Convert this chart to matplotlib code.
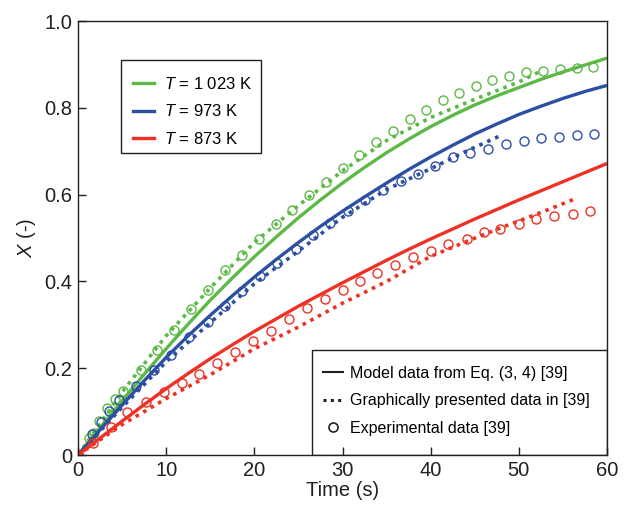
import matplotlib
matplotlib.use('Agg')
import matplotlib.pyplot as plt
from matplotlib.lines import Line2D
from matplotlib.patches import Rectangle

plt.rcParams['font.family'] = ['Liberation Sans', 'DejaVu Sans']
plt.rcParams['mathtext.fontset'] = 'custom'
plt.rcParams['mathtext.rm'] = 'Liberation Sans'
plt.rcParams['mathtext.it'] = 'Liberation Sans:italic'

# model curves, Eq. (3, 4)
t_model = [0, 2.5, 5, 7.5, 10, 12.5, 15, 17.5, 20, 22.5, 25, 27.5, 30,
           32.5, 35, 37.5, 40, 42.5, 45, 47.5, 50, 52.5, 55, 57.5, 60]
x_model_1023 = [0, 0.063, 0.125, 0.186, 0.245, 0.302, 0.357, 0.408, 0.457, 0.503, 0.547, 0.588, 0.627,
                0.663, 0.697, 0.728, 0.757, 0.783, 0.807, 0.828, 0.847, 0.866, 0.883, 0.899, 0.915]
x_model_973 = [0, 0.058, 0.115, 0.171, 0.225, 0.275, 0.322, 0.367, 0.41, 0.451, 0.49, 0.527, 0.562,
               0.595, 0.627, 0.658, 0.687, 0.714, 0.74, 0.763, 0.785, 0.804, 0.822, 0.838, 0.852]
x_model_873 = [0, 0.039, 0.078, 0.116, 0.153, 0.188, 0.222, 0.254, 0.285, 0.314, 0.343, 0.370, 0.397,
               0.423, 0.449, 0.474, 0.498, 0.521, 0.544, 0.566, 0.588, 0.609, 0.63, 0.651, 0.672]

# graphically presented data in [39]
t_graph_1023 = [0, 5, 10, 15, 20, 25, 30, 35, 40, 45, 50, 52.7]
x_graph_1023 = [0, 0.145, 0.275, 0.385, 0.49, 0.575, 0.655, 0.725, 0.778, 0.82, 0.86, 0.887]
t_graph_973 = [0, 5, 10, 15, 20, 25, 30, 35, 40, 44, 48]
x_graph_973 = [0, 0.11, 0.215, 0.305, 0.395, 0.47, 0.548, 0.612, 0.66, 0.70, 0.737]
t_graph_873 = [0, 5, 10, 15, 20, 25, 30, 35, 40, 45, 48, 52, 56.2]
x_graph_873 = [0, 0.07, 0.13, 0.185, 0.245, 0.295, 0.35, 0.40, 0.458, 0.50, 0.524, 0.555, 0.589]

# experimental data [39]
t_exp_1023 = [0, 1.2, 1.85, 2.4, 3.25, 4.2, 5.1, 7.1, 9.0, 10.9, 12.8, 14.8, 16.7, 18.6, 20.5,
              22.5, 24.3, 26.2, 28.1, 30.0, 31.9, 33.8, 35.7, 37.6, 39.5, 41.4, 43.2, 45.1,
              47.0, 48.9, 50.8, 52.7, 54.7, 56.6, 58.4]
x_exp_1023 = [0, 0.039, 0.05, 0.079, 0.109, 0.13, 0.148, 0.195, 0.242, 0.289, 0.337, 0.381,
              0.426, 0.46, 0.498, 0.533, 0.565, 0.60, 0.63, 0.662, 0.691, 0.722, 0.748, 0.774,
              0.796, 0.818, 0.835, 0.851, 0.865, 0.874, 0.884, 0.886, 0.89, 0.893, 0.895]
t_exp_973 = [0, 1.55, 2.6, 3.55, 4.65, 6.6, 8.6, 10.6, 12.6, 14.7, 16.7, 18.6, 20.6, 22.6, 24.7,
             26.6, 28.6, 30.6, 32.6, 34.6, 36.6, 38.6, 40.5, 42.5, 44.5, 46.5, 48.5, 50.6,
             52.5, 54.5, 56.6, 58.5]
x_exp_973 = [0, 0.048, 0.075, 0.102, 0.127, 0.159, 0.195, 0.231, 0.271, 0.306, 0.343, 0.377,
             0.412, 0.443, 0.476, 0.508, 0.535, 0.562, 0.588, 0.61, 0.631, 0.648, 0.666,
             0.687, 0.697, 0.706, 0.718, 0.724, 0.73, 0.733, 0.737, 0.74]
t_exp_873 = [0, 1.74, 3.7, 5.6, 7.7, 9.75, 11.76, 13.76, 15.8, 17.8, 19.8, 21.9, 23.9, 26, 28,
             30, 32, 33.9, 35.9, 38, 40, 42, 44.1, 46, 47.9, 50, 52, 54, 56.1, 58.1]
x_exp_873 = [0, 0.027, 0.065, 0.10, 0.123, 0.145, 0.165, 0.187, 0.213, 0.238, 0.263, 0.286,
             0.313, 0.34, 0.36, 0.381, 0.402, 0.42, 0.439, 0.456, 0.471, 0.487, 0.498, 0.513,
             0.521, 0.533, 0.544, 0.55, 0.556, 0.563]

temp_labels = [r'$T$ = 1 023 K', r'$T$ = 973 K', r'$T$ = 873 K']
kind_labels = ['Model data from Eq. (3, 4) [39]', 'Graphically presented data in [39]',
               'Experimental data [39]']

green = '#5cb946'
blue = '#2d4fa3'
red = '#ee3124'
ink = '#231f20'
dots = (0, (1, 1.4))

fig = plt.figure(figsize=(6.25, 5.05), dpi=100)
ax = fig.add_axes([0.1248, 0.099, 0.8464, 0.859])

series = [
    (t_model, x_model_1023, t_graph_1023, x_graph_1023, t_exp_1023, x_exp_1023, green),
    (t_model, x_model_973, t_graph_973, x_graph_973, t_exp_973, x_exp_973, blue),
    (t_model, x_model_873, t_graph_873, x_graph_873, t_exp_873, x_exp_873, red),
]
for tm, xm, tg, xg, te, xe, c in series:
    ax.plot(tm, xm, color=c, lw=2.4, solid_capstyle='butt', solid_joinstyle='round')
    ax.plot(tg, xg, color=c, lw=2.6, linestyle=dots)
    ax.plot(te, xe, linestyle='none', marker='o', ms=6.5, mfc='none', mec=c, mew=1.0)

ax.set_xlim(0, 60)
ax.set_ylim(0, 1.0)
ax.set_xticks([0, 10, 20, 30, 40, 50, 60])
ax.set_yticks([0, 0.2, 0.4, 0.6, 0.8, 1.0])
ax.set_yticklabels(['0', '0.2', '0.4', '0.6', '0.8', '1.0'])
ax.tick_params(direction='in', length=6, width=1, labelsize=14.5, colors=ink, pad=4)
for s in ax.spines.values():
    s.set_color(ink)
    s.set_linewidth(1.0)
ax.set_xlabel('Time (s)', fontsize=14.5, color=ink, labelpad=1)
ax.set_ylabel(r'$X$ (-)', fontsize=14.5, color=ink, labelpad=5)

# temperature legend
ax.add_patch(Rectangle((0.081, 0.696), 0.265, 0.214, transform=ax.transAxes,
                       fill=False, ec=ink, lw=1.0, zorder=5))
h1 = [Line2D([], [], color=c, lw=2.4) for c in (green, blue, red)]
leg1 = ax.legend(h1, temp_labels, loc='upper left', bbox_to_anchor=(0.104, 0.874),
                 fontsize=12, frameon=False, handlelength=1.25, handletextpad=0.6,
                 labelspacing=0.69, borderpad=0, borderaxespad=0)
ax.add_artist(leg1)

# data-kind legend
ax.add_patch(Rectangle((0.442, 0.0), 0.558, 0.242, transform=ax.transAxes,
                       fill=False, ec=ink, lw=1.0, zorder=5))
h2 = [Line2D([], [], color=ink, lw=1.5),
      Line2D([], [], color=ink, lw=2.2, linestyle=dots),
      Line2D([], [], color=ink, linestyle='none', marker='o', ms=6.5, mfc='none', mew=1.2)]
leg2 = ax.legend(h2, kind_labels, loc='upper left', bbox_to_anchor=(0.463, 0.205),
                 fontsize=11.5, frameon=False, handlelength=1.25, handletextpad=0.45,
                 labelspacing=0.77, borderpad=0, borderaxespad=0)

fig.savefig('out.png', dpi=100)
